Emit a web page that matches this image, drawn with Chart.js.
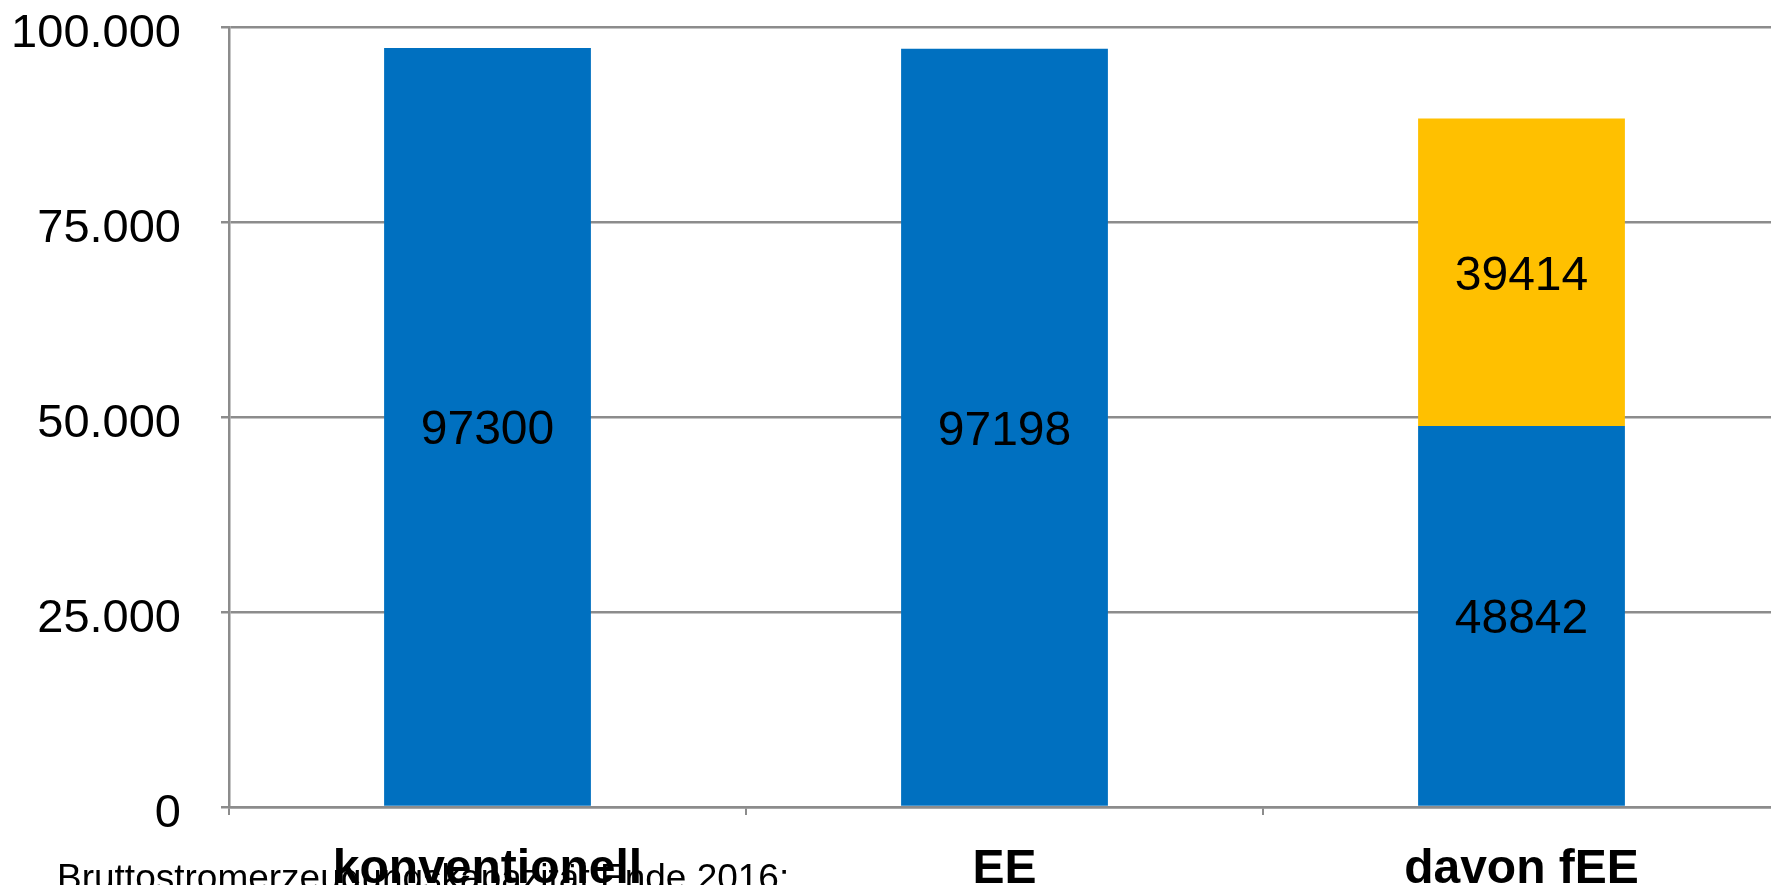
<!DOCTYPE html>
<html lang="de">

  <head>
    <meta charset="UTF-8">
    <title>Bruttostromerzeugungskapazität Ende 2016</title>
    <script src="https://cdn.jsdelivr.net/npm/chart.js"></script>
    <style>
      html, body { margin: 0; padding: 0; background: #fff; overflow: hidden; }
      #wrap { position: relative; width: 1780px; height: 885px; }
      #note {
        position: absolute; left: 57px; top: 859px;
        font-family: "Liberation Sans", Arial, sans-serif;
        font-size: 37px; line-height: 37px; color: #000; white-space: nowrap;
      }
    </style>
  </head>

  <body>
    <div id="wrap">
      <canvas id="capacityChart" width="1780" height="885"></canvas>
      <div id="note">Bruttostromerzeugungskapazität Ende 2016:</div>
    </div>

    <script>
      // categories and values (MW)
      const categories = ['konventionell', 'EE', 'davon fEE'];
      const baseValues = [97300, 97198, 48842];
      const topValues = [null, null, 39414];
      const yTicks = [0, 25000, 50000, 75000, 100000];

      const gridColor = '#8c8c8c';
      const fontFamily = '"Liberation Sans", Arial, sans-serif';
      const labelSize = 48;

      function formatThousands(v) {
        return String(v).replace(/\B(?=(\d{3})+(?!\d))/g, '.');
      }

      // write each value in the middle of its bar segment
      const valueLabels = {
        id: 'valueLabels',
        afterDatasetsDraw(chart) {
          const ctx = chart.ctx;
          ctx.save();
          ctx.font = labelSize + 'px ' + fontFamily;
          ctx.fillStyle = '#000';
          ctx.textAlign = 'center';
          ctx.textBaseline = 'alphabetic';
          chart.data.datasets.forEach((ds, i) => {
            const meta = chart.getDatasetMeta(i);
            meta.data.forEach((bar, j) => {
              const v = ds.data[j];
              if (v === null || v === undefined) return;
              // digits centred vertically on the segment
              ctx.fillText(String(v), bar.x, (bar.y + bar.base) / 2 + labelSize * 0.36);
            });
          });
          ctx.restore();
        }
      };

      const ctx = document.getElementById('capacityChart').getContext('2d');
      new Chart(ctx, {
        type: 'bar',
        data: {
          labels: categories,
          datasets: [
            {
              label: 'gesamt',
              data: baseValues,
              backgroundColor: '#0070c0',
              barPercentage: 0.8,
              categoryPercentage: 0.5
            },
            {
              label: 'fEE',
              data: topValues,
              backgroundColor: '#ffc000',
              barPercentage: 0.8,
              categoryPercentage: 0.5
            }
          ]
        },
        options: {
          responsive: false,
          animation: false,
          devicePixelRatio: 1,
          layout: { padding: 0 },
          plugins: {
            legend: { display: false },
            tooltip: { enabled: false }
          },
          scales: {
            x: {
              stacked: true,
              afterFit: (s) => {
                s.height = 78;
                s.paddingLeft = 0;
                s.paddingRight = 0;
              },
              grid: {
                drawOnChartArea: false,
                drawTicks: true,
                tickLength: 8,
                color: gridColor,
                lineWidth: 2
              },
              border: { color: gridColor, width: 2.5 },
              ticks: {
                padding: 26,
                color: '#000',
                font: { family: fontFamily, size: 48, weight: 'bold' }
              }
            },
            y: {
              stacked: true,
              min: 0,
              max: 100000,
              afterFit: (s) => {
                s.width = 229;
                s.paddingTop = 27;
                s.paddingBottom = 0;
              },
              afterBuildTicks: (s) => { s.ticks = yTicks.map(v => ({ value: v })); },
              grid: {
                color: gridColor,
                lineWidth: 2.5,
                tickLength: 8
              },
              border: { color: gridColor, width: 2.5 },
              ticks: {
                padding: 40,
                color: '#000',
                // empty first line nudges the label a little below its grid line
                font: { family: fontFamily, size: 47, lineHeight: '14px' },
                callback: (v) => ['', formatThousands(v)]
              }
            }
          }
        },
        plugins: [valueLabels]
      });
    </script>
  </body>

</html>
